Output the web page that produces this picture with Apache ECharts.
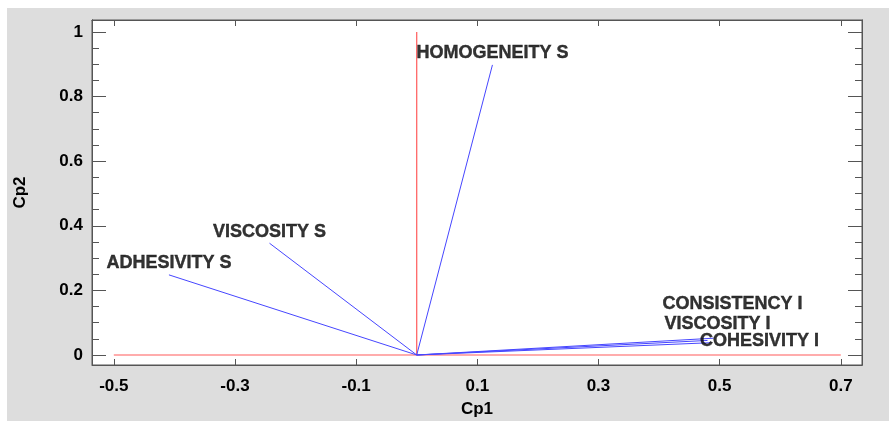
<!DOCTYPE html>
<html>
<head>
<meta charset="utf-8">
<script src="https://cdn.jsdelivr.net/npm/echarts@6/dist/echarts.min.js"></script>
<style>
  html, body { margin: 0; padding: 0; background: #ffffff; }
  #wrap { position: absolute; left: 0; top: 0; width: 889px; height: 421px; background: #ffffff; }
  #chart { position: absolute; left: 7px; top: 8px; width: 882px; height: 413px; background: #dddddd; }
</style>
</head>
<body>
<div id="wrap"><div id="chart"></div></div>
<script>
// ---- data ----
const variableNames = ['HOMOGENEITY S', 'VISCOSITY S', 'ADHESIVITY S', 'CONSISTENCY I', 'VISCOSITY I', 'COHESIVITY I'];
const cp1Loadings = [0.125, -0.243, -0.409, 0.490, 0.480, 0.485];
const cp2Loadings = [0.898, 0.346, 0.248, 0.052, 0.045, 0.038];
const xTickValues = [-0.5, -0.3, -0.1, 0.1, 0.3, 0.5, 0.7];
const yTickValues = [0, 0.2, 0.4, 0.6, 0.8, 1];
const yMinorTickValues = [0.05, 0.1, 0.15, 0.25, 0.3, 0.35, 0.45, 0.5, 0.55, 0.65, 0.7, 0.75, 0.85, 0.9, 0.95];
const horizontalRefLine = [[-0.5, 0], [0.7, 0]];
const verticalRefLine = [[0, 0], [0, 1]];

// ---- styles (label shifts, px) ----
const labelShifts = [[0, 0], [0, 0], [0, 0], [19, -23], [10, -5], [49, 10]];

const FONT = '"Liberation Sans", Arial, sans-serif';
const frameColor = '#555555';
const chart = echarts.init(document.getElementById('chart'), null, { renderer: 'canvas' });

const xBase = {
  type: 'value', min: -0.536, max: 0.735,
  splitLine: { show: false },
  axisLine: { show: true, onZero: false, lineStyle: { color: frameColor, width: 1 } }
};
const yBase = {
  type: 'value', min: -0.031, max: 1.037,
  splitLine: { show: false },
  axisLine: { show: true, onZero: false, lineStyle: { color: frameColor, width: 1 } }
};

const series = [];
series.push({
  type: 'line', xAxisIndex: 0, yAxisIndex: 0, data: horizontalRefLine,
  symbol: 'none', silent: true, lineStyle: { color: '#ff5a5a', width: 1.2 }, z: 1
});
series.push({
  type: 'line', xAxisIndex: 0, yAxisIndex: 0, data: verticalRefLine,
  symbol: 'none', silent: true, lineStyle: { color: '#ff5a5a', width: 1.2 }, z: 1
});
variableNames.forEach((n, i) => {
  series.push({
    type: 'line', xAxisIndex: 0, yAxisIndex: 0,
    data: [[0, 0], [cp1Loadings[i], cp2Loadings[i]]],
    symbol: 'none', silent: true,
    lineStyle: { color: '#4646ff', width: 1 }, z: 2
  });
});
series.push({
  type: 'scatter', xAxisIndex: 0, yAxisIndex: 0,
  symbolSize: 1, itemStyle: { color: 'rgba(0,0,0,0)' },
  silent: true,
  data: variableNames.map((n, i) => ({
    value: [cp1Loadings[i], cp2Loadings[i]],
    name: n
  })),
  label: {
    show: true, position: 'top', distance: 2,
    formatter: p => p.name,
    color: '#000', fontFamily: FONT, fontWeight: 'bold', fontSize: 18,
    textBorderColor: '#000', textBorderWidth: 0.4
  },
  labelLayout: function (params) {
    const s = labelShifts[params.dataIndex] || [0, 0];
    return { dx: s[0], dy: s[1], hideOverlap: false };
  },
  z: 5
});

chart.setOption({
  animation: false,
  backgroundColor: '#dddddd',
  grid: {
    left: 85, top: 12, right: 27, bottom: 56,
    outerBoundsMode: 'none', containLabel: false,
    show: true, backgroundColor: '#ffffff', borderColor: frameColor, borderWidth: 1
  },
  xAxis: [
    Object.assign({}, xBase, {
      position: 'bottom',
      name: 'Cp1', nameLocation: 'middle', nameGap: 36,
      nameTextStyle: { color: '#000', fontFamily: FONT, fontWeight: 'bold', fontSize: 17 },
      axisTick: { show: true, inside: true, length: 6, customValues: xTickValues, lineStyle: { color: frameColor } },
      axisLabel: {
        show: true, customValues: xTickValues, margin: 13,
        formatter: v => (Math.round(v * 10) / 10).toString(),
        color: '#000', fontFamily: FONT, fontWeight: 'bold', fontSize: 17
      }
    }),
    Object.assign({}, xBase, {
      position: 'top',
      axisTick: { show: true, inside: true, length: 6, customValues: xTickValues, lineStyle: { color: frameColor } },
      axisLabel: { show: false }
    })
  ],
  yAxis: [
    Object.assign({}, yBase, {
      position: 'left',
      name: 'Cp2', nameLocation: 'middle', nameGap: 63, nameRotate: 90,
      nameTextStyle: { color: '#000', fontFamily: FONT, fontWeight: 'bold', fontSize: 17 },
      axisTick: { show: true, inside: true, length: 14, customValues: yTickValues, lineStyle: { color: frameColor } },
      axisLabel: {
        show: true, customValues: yTickValues, margin: 9,
        formatter: v => (Math.round(v * 10) / 10).toString(),
        color: '#000', fontFamily: FONT, fontWeight: 'bold', fontSize: 17
      }
    }),
    Object.assign({}, yBase, {
      position: 'left',
      axisTick: { show: true, inside: true, length: 7, customValues: yMinorTickValues, lineStyle: { color: frameColor } },
      axisLabel: { show: false }
    }),
    Object.assign({}, yBase, {
      position: 'right',
      axisTick: { show: true, inside: true, length: 14, customValues: yTickValues, lineStyle: { color: frameColor } },
      axisLabel: { show: false }
    }),
    Object.assign({}, yBase, {
      position: 'right',
      axisTick: { show: true, inside: true, length: 7, customValues: yMinorTickValues, lineStyle: { color: frameColor } },
      axisLabel: { show: false }
    })
  ],
  series: series
});
</script>
</body>
</html>
